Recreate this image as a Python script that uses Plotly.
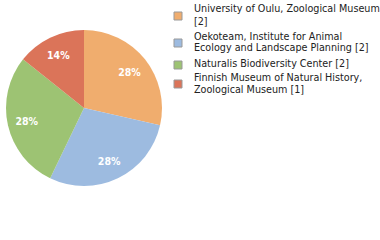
import plotly.graph_objects as go

labels = [
    "University of Oulu, Zoological Museum<br>[2]",
    "Oekoteam, Institute for Animal<br>Ecology and Landscape Planning [2]",
    "Naturalis Biodiversity Center [2]",
    "Finnish Museum of Natural History,<br>Zoological Museum [1]",
]
values = [2, 2, 2, 1]
colors = ["#F0AD6E", "#9DBBE0", "#9DC373", "#DB7459"]

total = sum(values)
text = [f"{int(v * 100 / total)}%" for v in values]

W, H = 380, 240
dom = dict(x=[6 / W, 162 / W], y=[54 / H, 210 / H])

fig = go.Figure()
# filled pie
fig.add_trace(go.Pie(
    labels=labels, values=values, textinfo="none",
    marker=dict(colors=colors, line=dict(width=0)),
    sort=False, direction="clockwise", rotation=0,
    domain=dom, hoverinfo="none", showlegend=False,
))
# transparent ring carrying the percentage labels at ~3/4 radius
fig.add_trace(go.Pie(
    labels=labels, values=values, text=text, textinfo="text",
    textposition="inside", insidetextorientation="horizontal",
    textfont=dict(color="white", size=10.5, family="DejaVu Sans Condensed, DejaVu Sans",
                  weight="bold"),
    marker=dict(colors=["rgba(0,0,0,0)"] * len(values), line=dict(width=0)),
    hole=0.5, sort=False, direction="clockwise", rotation=0,
    domain=dom, hoverinfo="none", showlegend=False,
))

# legend drawn as squares + text lines
item_tops = [9, 36, 64, 77]
line_h = 12
text_x = 192
sq_x0, sq_size = 174, 8
for lab, col, top in zip(labels, colors, item_tops):
    lines = lab.split("<br>")
    for i, ln in enumerate(lines):
        fig.add_annotation(
            x=text_x / W, y=1 - (top + i * line_h) / H, xref="paper", yref="paper",
            text=ln, showarrow=False, xanchor="left", yanchor="middle",
            font=dict(family="DejaVu Sans Condensed, DejaVu Sans", size=10.7, color="#222222"),
        )
    cy = top + (len(lines) - 1) * line_h / 2 + 1
    fig.add_shape(
        type="rect", xref="paper", yref="paper",
        x0=sq_x0 / W, x1=(sq_x0 + sq_size) / W,
        y0=1 - (cy - sq_size / 2) / H, y1=1 - (cy + sq_size / 2) / H,
        fillcolor=col, line=dict(color="#999999", width=1),
    )

fig.update_layout(
    width=W, height=H,
    margin=dict(l=0, r=0, t=0, b=0, autoexpand=False),
    paper_bgcolor="white",
    showlegend=False,
)

fig.write_html("out.html", config={"displayModeBar": False},
               post_script="document.body.style.margin='0px';")
